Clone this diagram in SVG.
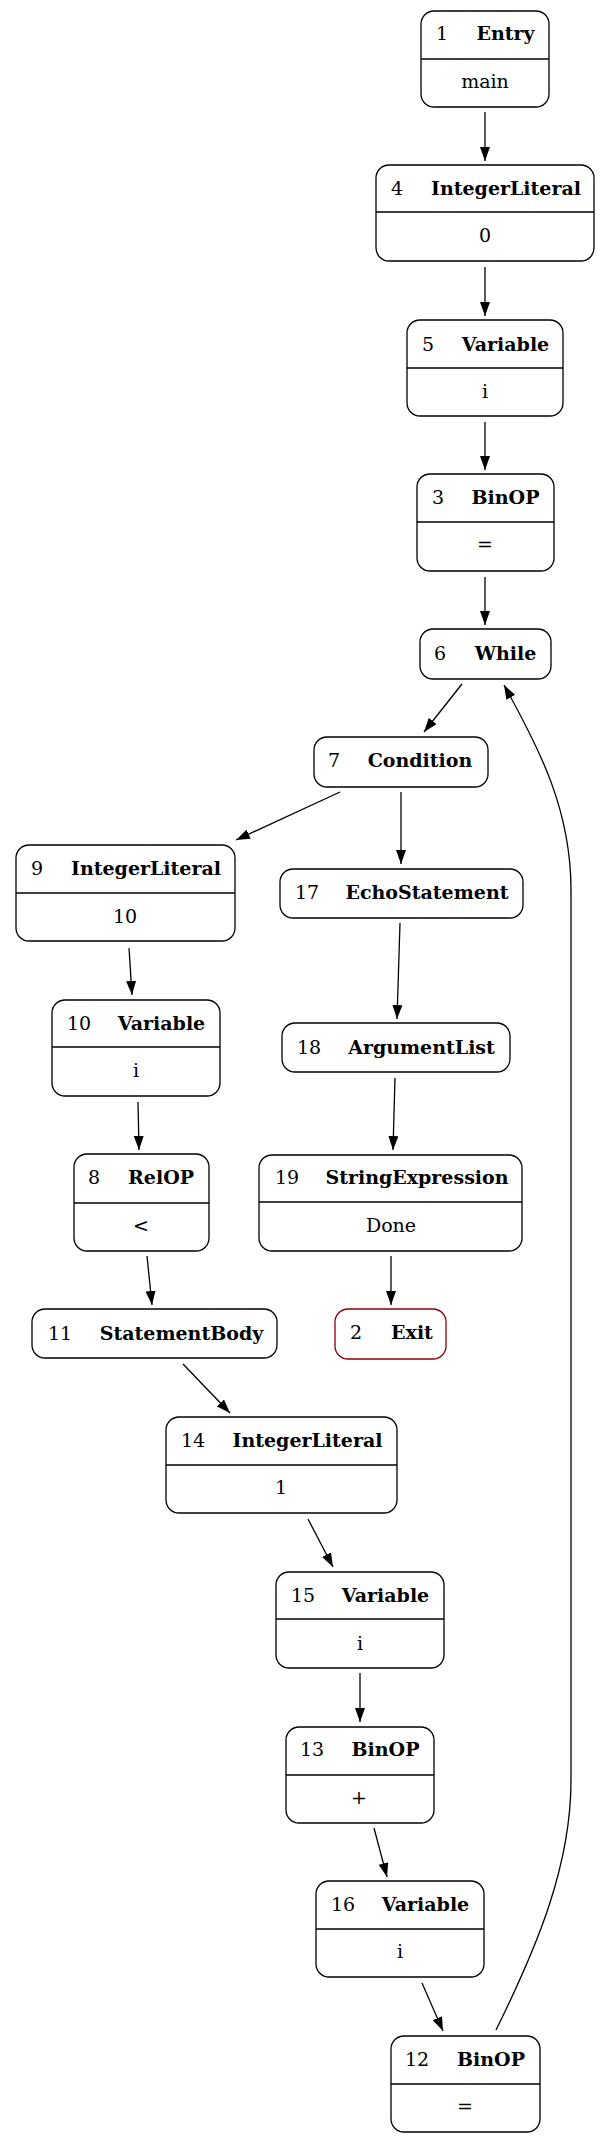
<svg xmlns="http://www.w3.org/2000/svg" width="611" height="2143" viewBox="0 0 611 2143">
<defs>
<style>
.box{fill:#fff;stroke:#000;stroke-width:1.3}
.exit{fill:#fff;stroke:#8b0000;stroke-width:1.3}
.div{stroke:#000;stroke-width:1.3}
.num{font-family:"DejaVu Serif",serif;font-size:19px;text-anchor:middle}
.lbl{font-family:"DejaVu Serif",serif;font-size:19px;font-weight:bold;text-anchor:middle}
.val{font-family:"DejaVu Serif",serif;font-size:19px;text-anchor:middle}
.e{fill:none;stroke:#000;stroke-width:1.3;marker-end:url(#ah)}
</style>
<marker id="ah" markerUnits="userSpaceOnUse" markerWidth="14" markerHeight="10" refX="14" refY="5" orient="auto" viewBox="0 0 14 10">
<path d="M0,0 L14,5 L0,10 z" fill="#000"/>
</marker>
</defs>
<rect width="611" height="2143" fill="#fff"/>
<g id="edges">
<line class="e" x1="485" y1="112" x2="485" y2="161"/>
<line class="e" x1="485" y1="267" x2="485" y2="316"/>
<line class="e" x1="485" y1="422" x2="485" y2="470"/>
<line class="e" x1="485" y1="577" x2="485" y2="625"/>
<line class="e" x1="462" y1="684" x2="424" y2="732"/>
<line class="e" x1="340" y1="792" x2="236" y2="840"/>
<line class="e" x1="401" y1="792" x2="401" y2="864"/>
<line class="e" x1="129" y1="948" x2="132" y2="995"/>
<line class="e" x1="138" y1="1102" x2="139" y2="1150"/>
<line class="e" x1="147" y1="1256" x2="152" y2="1305"/>
<line class="e" x1="183" y1="1364" x2="230" y2="1413"/>
<line class="e" x1="308" y1="1519" x2="333" y2="1567"/>
<line class="e" x1="360" y1="1673" x2="360" y2="1722"/>
<line class="e" x1="374" y1="1828" x2="387" y2="1877"/>
<line class="e" x1="422" y1="1983" x2="443" y2="2031"/>
<line class="e" x1="400" y1="923" x2="397" y2="1019"/>
<line class="e" x1="395" y1="1078" x2="393" y2="1150"/>
<line class="e" x1="391" y1="1256" x2="391" y2="1305"/>
<path class="e" d="M496,2030 C538,1945 571,1865 571,1780 L571,890 C571,810 540,750 504,685"/>
</g>
<g id="n1"><rect class="box" x="421" y="11" width="128" height="96" rx="13"/><line class="div" x1="421" y1="59" x2="549" y2="59"/><text class="num" x="442" y="40">1</text><text class="lbl" x="505.5" y="40">Entry</text><text class="val" x="485" y="88">main</text></g>
<g id="n4"><rect class="box" x="376" y="165" width="218" height="96" rx="13"/><line class="div" x1="376" y1="212" x2="594" y2="212"/><text class="num" x="397" y="195">4</text><text class="lbl" x="506" y="195">IntegerLiteral</text><text class="val" x="485" y="242">0</text></g>
<g id="n5"><rect class="box" x="407" y="320" width="156" height="96" rx="13"/><line class="div" x1="407" y1="368" x2="563" y2="368"/><text class="num" x="428" y="351">5</text><text class="lbl" x="505.5" y="351">Variable</text><text class="val" x="485" y="398">i</text></g>
<g id="n3"><rect class="box" x="417" y="474" width="137" height="97" rx="13"/><line class="div" x1="417" y1="522" x2="554" y2="522"/><text class="num" x="438" y="504">3</text><text class="lbl" x="505.5" y="504">BinOP</text><text class="val" x="485" y="551">=</text></g>
<g id="n6"><rect class="box" x="420" y="629" width="131" height="50" rx="13"/><text class="num" x="440" y="660">6</text><text class="lbl" x="505.5" y="660">While</text></g>
<g id="n7"><rect class="box" x="314" y="737" width="174" height="50" rx="13"/><text class="num" x="334" y="767">7</text><text class="lbl" x="420" y="767">Condition</text></g>
<g id="n9"><rect class="box" x="16" y="845" width="219" height="96" rx="13"/><line class="div" x1="16" y1="893" x2="235" y2="893"/><text class="num" x="37" y="875">9</text><text class="lbl" x="146" y="875">IntegerLiteral</text><text class="val" x="125" y="923">10</text></g>
<g id="n10"><rect class="box" x="52" y="1000" width="168" height="96" rx="13"/><line class="div" x1="52" y1="1047" x2="220" y2="1047"/><text class="num" x="79" y="1030">10</text><text class="lbl" x="161.5" y="1030">Variable</text><text class="val" x="136" y="1077">i</text></g>
<g id="n8"><rect class="box" x="74" y="1154" width="135" height="97" rx="13"/><line class="div" x1="74" y1="1203" x2="209" y2="1203"/><text class="num" x="94" y="1184">8</text><text class="lbl" x="161" y="1184">RelOP</text><text class="val" x="141" y="1232">&lt;</text></g>
<g id="n11"><rect class="box" x="32" y="1309" width="245" height="49" rx="13"/><text class="num" x="60" y="1340">11</text><text class="lbl" x="181.5" y="1340">StatementBody</text></g>
<g id="n14"><rect class="box" x="166" y="1417" width="231" height="96" rx="13"/><line class="div" x1="166" y1="1465" x2="397" y2="1465"/><text class="num" x="193" y="1447">14</text><text class="lbl" x="307.5" y="1447">IntegerLiteral</text><text class="val" x="281" y="1494">1</text></g>
<g id="n15"><rect class="box" x="276" y="1572" width="168" height="96" rx="13"/><line class="div" x1="276" y1="1619" x2="444" y2="1619"/><text class="num" x="303" y="1602">15</text><text class="lbl" x="385.5" y="1602">Variable</text><text class="val" x="360" y="1650">i</text></g>
<g id="n13"><rect class="box" x="286" y="1727" width="148" height="96" rx="13"/><line class="div" x1="286" y1="1775" x2="434" y2="1775"/><text class="num" x="312" y="1756">13</text><text class="lbl" x="385.5" y="1756">BinOP</text><text class="val" x="359" y="1804">+</text></g>
<g id="n16"><rect class="box" x="316" y="1881" width="168" height="96" rx="13"/><line class="div" x1="316" y1="1929" x2="484" y2="1929"/><text class="num" x="343" y="1911">16</text><text class="lbl" x="425.5" y="1911">Variable</text><text class="val" x="400" y="1958">i</text></g>
<g id="n12"><rect class="box" x="391" y="2036" width="149" height="96" rx="13"/><line class="div" x1="391" y1="2084" x2="540" y2="2084"/><text class="num" x="417" y="2066">12</text><text class="lbl" x="491" y="2066">BinOP</text><text class="val" x="465" y="2113">=</text></g>
<g id="n17"><rect class="box" x="280" y="869" width="243" height="49" rx="13"/><text class="num" x="307" y="899">17</text><text class="lbl" x="427" y="899">EchoStatement</text></g>
<g id="n18"><rect class="box" x="282" y="1023" width="228" height="49" rx="13"/><text class="num" x="309" y="1054">18</text><text class="lbl" x="421.5" y="1054">ArgumentList</text></g>
<g id="n19"><rect class="box" x="259" y="1155" width="263" height="96" rx="13"/><line class="div" x1="259" y1="1202" x2="522" y2="1202"/><text class="num" x="287" y="1184">19</text><text class="lbl" x="417" y="1184">StringExpression</text><text class="val" x="391" y="1232">Done</text></g>
<g id="n2"><rect class="exit" x="335" y="1309" width="111" height="50" rx="13"/><text class="num" x="356" y="1339">2</text><text class="lbl" x="412" y="1339">Exit</text></g>
</svg>
